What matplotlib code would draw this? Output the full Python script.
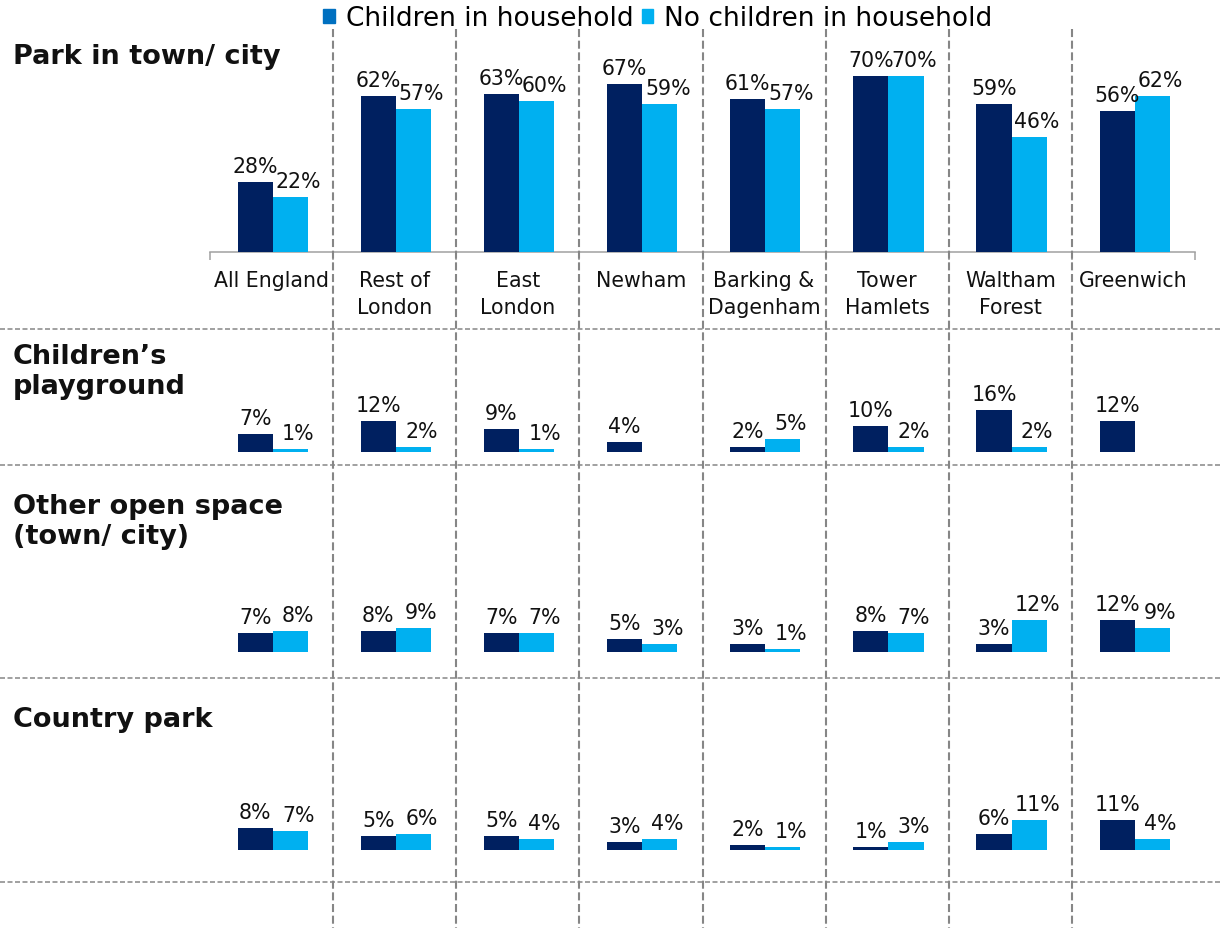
import numpy as np
import matplotlib
matplotlib.use('Agg')
import matplotlib.pyplot as plt
from matplotlib.patches import Patch

# categories along the x axis
categories = ['All England', 'Rest of\nLondon', 'East\nLondon', 'Newham',
              'Barking &\nDagenham', 'Tower\nHamlets', 'Waltham\nForest', 'Greenwich']

panel_titles = ['Park in town/ city', 'Children\u2019s\nplayground',
                'Other open space\n(town/ city)', 'Country park']

# share of visits (%), with / without children in household
park_kids = [28, 62, 63, 67, 61, 70, 59, 56]
park_nokids = [22, 57, 60, 59, 57, 70, 46, 62]
play_kids = [7, 12, 9, 4, 2, 10, 16, 12]
play_nokids = [1, 2, 1, np.nan, 5, 2, 2, np.nan]
other_kids = [7, 8, 7, 5, 3, 8, 3, 12]
other_nokids = [8, 9, 7, 3, 1, 7, 12, 9]
country_kids = [8, 5, 5, 3, 2, 1, 6, 11]
country_nokids = [7, 6, 4, 4, 1, 3, 11, 4]

series_names = ['Children in household', 'No children in household']

DARK = '#002060'
LIGHT = '#00B0F0'
LEGEND_DARK = '#0070C0'
GRID = '#868686'

W, H = 1220, 929
plt.rcParams['font.family'] = ['DejaVu Sans']
plt.rcParams['lines.scale_dashes'] = False

fig = plt.figure(figsize=(W / 100, H / 100), dpi=100)

# pixel layout helpers
X0, X1 = 210, 1195
def fig_rect(left, bottom_px, width, height):
    return [left / W, 1 - bottom_px / H, width / W, height / H]

# (baseline px, px per percent, title y centre, data)
panels = [
    (253, 2.51, 57, park_kids, park_nokids),
    (453, 2.60, 372, play_kids, play_nokids),
    (653, 2.65, 522, other_kids, other_nokids),
    (851, 2.72, 720, country_kids, country_nokids),
]

x = np.arange(len(categories))
bw = 0.285
centre = 0.51

for k, (base, scale, ty, kids, nokids) in enumerate(panels):
    ymax = 75
    ax = fig.add_axes(fig_rect(X0, base, X1 - X0, ymax * scale))
    ax.set_xlim(0, len(categories))
    ax.set_ylim(0, ymax)
    ax.patch.set_alpha(0)
    ax.bar(x + centre - bw / 2, kids, bw, color=DARK, zorder=3)
    ax.bar(x + centre + bw / 2, nokids, bw, color=LIGHT, zorder=3)

    for i in range(len(categories)):
        for v, off, dx in ((kids[i], -bw / 2, 0), (nokids[i], bw / 2, 8)):
            if np.isnan(v):
                continue
            ax.annotate(f'{v:.0f}%', (i + centre + off, v), xytext=(dx, 10),
                        textcoords='offset pixels', ha='center', va='baseline',
                        fontsize=14.8, color='#111111', annotation_clip=False)

    for s in ('top', 'right', 'left'):
        ax.spines[s].set_visible(False)
    ax.set_yticks([])
    if k == 0:
        ax.spines['bottom'].set_color('#A0A0A0')
        ax.spines['bottom'].set_linewidth(1.1)
        ax.set_xticks(np.arange(len(categories) + 1))
        ax.set_xticklabels([])
        ax.tick_params(axis='x', direction='out', length=6, width=1.1, color='#A0A0A0')
        for i, name in enumerate(categories):
            ax.annotate(name, (i + 0.5, 0), xytext=(0, -18), textcoords='offset pixels',
                        ha='center', va='top', fontsize=14.8, linespacing=1.45,
                        color='#111111', annotation_clip=False)
    else:
        ax.spines['bottom'].set_visible(False)
        ax.set_xticks([])

    fig.text(13 / W, 1 - ty / H, panel_titles[k], ha='left', va='center',
             fontsize=19.5, fontweight='bold', linespacing=1.18, color='#111111')

# dashed separators drawn on a full-figure overlay in pixel units
ov = fig.add_axes([0, 0, 1, 1])
ov.set_xlim(0, W)
ov.set_ylim(H, 0)
ov.axis('off')
ov.patch.set_alpha(0)
step = (X1 - X0) / len(categories)
for i in range(1, len(categories)):
    ov.plot([X0 + i * step] * 2, [30, H], color=GRID, lw=1.5,
            dashes=(5.8, 2.6), zorder=0)
for yy in (330, 466, 679, 883):
    ov.plot([0, W], [yy, yy], color=GRID, lw=1.1, dashes=(3.6, 1.8), zorder=0)

handles = [Patch(color=LEGEND_DARK), Patch(color=LIGHT)]
fig.legend(handles, series_names, loc='center', bbox_to_anchor=(658 / W, 1 - 19 / H),
           ncol=2, frameon=False, fontsize=19, handlelength=0.44, handleheight=0.44,
           handletextpad=0.42, columnspacing=0.3, borderpad=0, borderaxespad=0)

fig.savefig('out.png', dpi=100)
